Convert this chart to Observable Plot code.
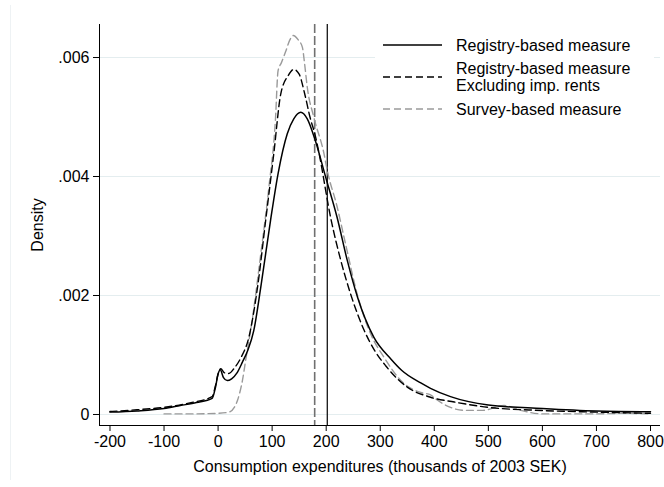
<!DOCTYPE html>
<html><head><meta charset="utf-8">
<script src="https://cdn.jsdelivr.net/npm/d3@7"></script>
<script src="https://cdn.jsdelivr.net/npm/@observablehq/plot@0.6"></script>
<style>
body{margin:0;background:#fff;font-family:"Liberation Sans",Arial,sans-serif}
#wrap{position:relative;width:664px;height:487px;overflow:hidden}
#border{position:absolute;left:10px;top:5px;width:0;height:475px;border-left:1px solid #eef2f4}
.leg{position:absolute;background:#fff}
.lt{position:absolute;left:456px;font-size:16px;line-height:17px;color:#000;white-space:nowrap}
</style>
</head><body><div id="wrap"><div id="border"></div></div>
<script>
// Registry-based measure (solid black)
const regX = [-200,-150,-100,-70,-40,-11,-5,0,4,10,17,25,35,45,55,66,79,97,111,128,140,153,165,180,199,220,239,258,288,320,340,375,393,430,500,600,700,800];
const regY = [0.00004,0.00006,0.0001,0.00015,0.0002,0.00027,0.00045,0.00068,0.00075,0.00062,0.00057,0.0006,0.0007,0.00088,0.00108,0.00141,0.00214,0.00326,0.00405,0.00472,0.00497,0.00508,0.00497,0.0046,0.00399,0.00332,0.00259,0.00197,0.0013,0.00093,0.00074,0.00053,0.00044,0.0003,0.00016,0.0001,0.000058,0.000045];
// Registry-based measure excluding imputed rents (black dashed)
const excX = [-200,-150,-100,-50,-11,-5,0,5,12,20,30,42,57,73,88,103,116,130,140,150,160,170,180,187,208,227,245,270,290,310,350,393,437,500,600,700,800];
const excY = [0.00005,0.00008,0.00012,0.0002,0.0003,0.00048,0.00068,0.00077,0.0007,0.00069,0.00078,0.00095,0.0013,0.00214,0.00326,0.00438,0.00539,0.0057,0.0058,0.00572,0.0054,0.005,0.00468,0.00438,0.00332,0.00259,0.00203,0.00142,0.00107,0.00082,0.00046,0.00029,0.00021,0.00012,0.000067,0.00004,0.00002];
// Survey-based measure (gray dashed)
const surX = [-100,-50,0,20,30,36,45,51,63,79,94,106,111,117,125,133,139,148,156,160,165,177,196,202,220,235,258,282,307,344,375,393,406,430,455,490,529,560,600,700,750,800];
const surY = [0.00001,0.00001,0.00002,0.00004,0.00012,0.00024,0.00057,0.00091,0.00158,0.0027,0.00382,0.00494,0.00578,0.00591,0.0061,0.0063,0.00637,0.0063,0.00617,0.0059,0.0055,0.005,0.00438,0.0041,0.0035,0.0029,0.002,0.00136,0.00096,0.00052,0.00037,0.00033,0.00024,0.00012,0.00007,0.00007,0.00015,0.00007,0.00001,0.00001,0.00002,0.00001];
// Means (vertical reference lines)
const meanRegistry = [202];
const meanSurvey = [178.7];
const xTicks = [-200,-100,0,100,200,300,400,500,600,700,800];
const yTicks = [0,0.002,0.004,0.006];
const yTickLabels = ["0",".002",".004",".006"];
const legendLabels = ["Registry-based measure","Registry-based measure\nExcluding imp. rents","Survey-based measure"];

const xDomain = [-219.4, 818.5];
const yDomain = [-0.000185, 0.006555];

const toRows = (xs, ys) => xs.map((x, i) => ({x, y: ys[i]}));
const reg = toRows(regX, regY), exc = toRows(excX, excY), sur = toRows(surX, surY);

const chart = Plot.plot({
  width: 664, height: 487,
  marginLeft: 99, marginRight: 4, marginTop: 24, marginBottom: 62,
  style: {fontFamily: '"Liberation Sans", Arial, sans-serif', fontSize: "16px", color: "#000", background: "transparent"},
  x: {domain: xDomain},
  y: {domain: yDomain},
  marks: [
    Plot.ruleY(yTicks, {stroke: "#e4edef", strokeWidth: 1}),
    Plot.ruleX(meanSurvey, {stroke: "#707070", strokeWidth: 1.6, strokeDasharray: "9,3"}),
    Plot.ruleX(meanRegistry, {stroke: "#000", strokeWidth: 1.2}),
    Plot.line(sur, {x: "x", y: "y", curve: "monotone-x", stroke: "#9a9a9a", strokeWidth: 1.4, strokeDasharray: "7,4"}),
    Plot.line(exc, {x: "x", y: "y", curve: "monotone-x", stroke: "#000", strokeWidth: 1.4, strokeDasharray: "7,4"}),
    Plot.line(reg, {x: "x", y: "y", curve: "monotone-x", stroke: "#000", strokeWidth: 1.5}),
    Plot.axisY({ticks: yTicks, tickFormat: d => yTickLabels[yTicks.indexOf(d)], tickSize: 6, tickPadding: 4, fontSize: 16,
      label: "Density", labelAnchor: "center", labelArrow: "none", labelOffset: 68}),
    Plot.axisX({ticks: xTicks, tickFormat: d => String(d), tickSize: 6, tickPadding: 4, fontSize: 16,
      label: "Consumption expenditures (thousands of 2003 SEK)", labelAnchor: "center", labelArrow: "none", labelOffset: 46}),
    Plot.ruleX([xDomain[0]], {stroke: "#000", strokeWidth: 1}),
    Plot.ruleY([yDomain[0]], {stroke: "#000", strokeWidth: 1})
  ]
});
const wrap = document.getElementById("wrap");
chart.style.position = "absolute"; chart.style.left = "0"; chart.style.top = "0";
wrap.appendChild(chart);

// legend
const leg = document.createElement("div");
leg.className = "leg";
leg.style.cssText = "left:375px;top:30px;width:279px;height:90px;";
wrap.appendChild(leg);
const styles = [
  {stroke: "#000", dash: "", cy: 45},
  {stroke: "#000", dash: "7,4", cy: 77},
  {stroke: "#9a9a9a", dash: "7,4", cy: 109}
];
legendLabels.forEach((lab, i) => {
  const s = styles[i];
  const svg = document.createElementNS("http://www.w3.org/2000/svg", "svg");
  svg.setAttribute("width", 60); svg.setAttribute("height", 4);
  svg.style.position = "absolute"; svg.style.left = "383px"; svg.style.top = (s.cy - 2) + "px";
  const ln = document.createElementNS("http://www.w3.org/2000/svg", "line");
  ln.setAttribute("x1", 0); ln.setAttribute("x2", 59); ln.setAttribute("y1", 2); ln.setAttribute("y2", 2);
  ln.setAttribute("stroke", s.stroke); ln.setAttribute("stroke-width", i === 0 ? 1.5 : 1.4);
  if (s.dash) ln.setAttribute("stroke-dasharray", s.dash);
  svg.appendChild(ln);
  wrap.appendChild(svg);
  const lines = lab.split("\n");
  const t = document.createElement("div");
  t.className = "lt";
  t.innerHTML = lines.join("<br>");
  t.style.top = (s.cy - lines.length * 8.5) + "px";
  wrap.appendChild(t);
});
</script>
</body></html>
